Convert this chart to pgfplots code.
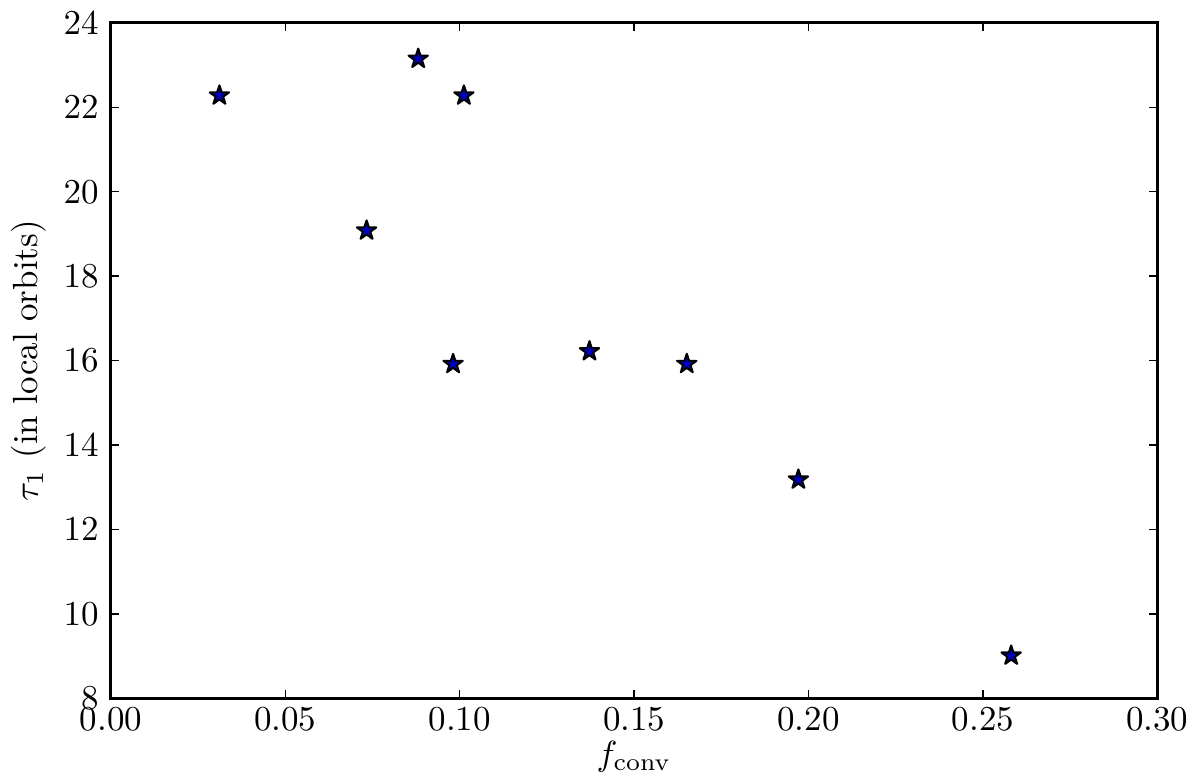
\documentclass[border=0pt]{standalone}
\usepackage{pgfplots}
\pgfplotsset{compat=1.18}
\pgfdeclareplotmark{fstar}{%
  \pgfpathmoveto{\pgfpointpolar{90}{\pgfplotmarksize}}%
  \pgfpathlineto{\pgfpointpolar{126}{0.382\pgfplotmarksize}}%
  \pgfpathlineto{\pgfpointpolar{162}{\pgfplotmarksize}}%
  \pgfpathlineto{\pgfpointpolar{198}{0.382\pgfplotmarksize}}%
  \pgfpathlineto{\pgfpointpolar{234}{\pgfplotmarksize}}%
  \pgfpathlineto{\pgfpointpolar{270}{0.382\pgfplotmarksize}}%
  \pgfpathlineto{\pgfpointpolar{306}{\pgfplotmarksize}}%
  \pgfpathlineto{\pgfpointpolar{342}{0.382\pgfplotmarksize}}%
  \pgfpathlineto{\pgfpointpolar{18}{\pgfplotmarksize}}%
  \pgfpathlineto{\pgfpointpolar{54}{0.382\pgfplotmarksize}}%
  \pgfpathclose
  \pgfusepathqfillstroke
}
\begin{document}
\begin{tikzpicture}
\begin{axis}[
  scale only axis,
  width=10.52cm, height=6.79cm,
  xmin=0, xmax=0.30, ymin=8, ymax=24,
  xtick={0,0.05,0.10,0.15,0.20,0.25,0.30},
  xticklabels={0.00,0.05,0.10,0.15,0.20,0.25,0.30},
  ytick={8,10,12,14,16,18,20,22,24},
  tick align=inside,
  major tick length=0.8mm,
  tick style={black, line width=0.4pt},
  axis line style={line width=0.9pt},
  xlabel={$f_{\rm conv}$},
  ylabel={$\tau_1$ (in local orbits)},
  xlabel style={yshift=4pt},
  ylabel style={yshift=-2pt},
  xticklabel style={yshift=1pt},
]
\addplot[only marks, mark=fstar, mark size=2.9pt, mark options={fill=blue!75!black, draw=black, line width=0.6pt, line join=round}]
coordinates {
(0.0311,22.28)
(0.0733,19.08)
(0.0881,23.15)
(0.1012,22.28)
(0.0981,15.92)
(0.1372,16.22)
(0.1651,15.92)
(0.1971,13.18)
(0.2581,9.01)
};
\end{axis}
\end{tikzpicture}
\end{document}
